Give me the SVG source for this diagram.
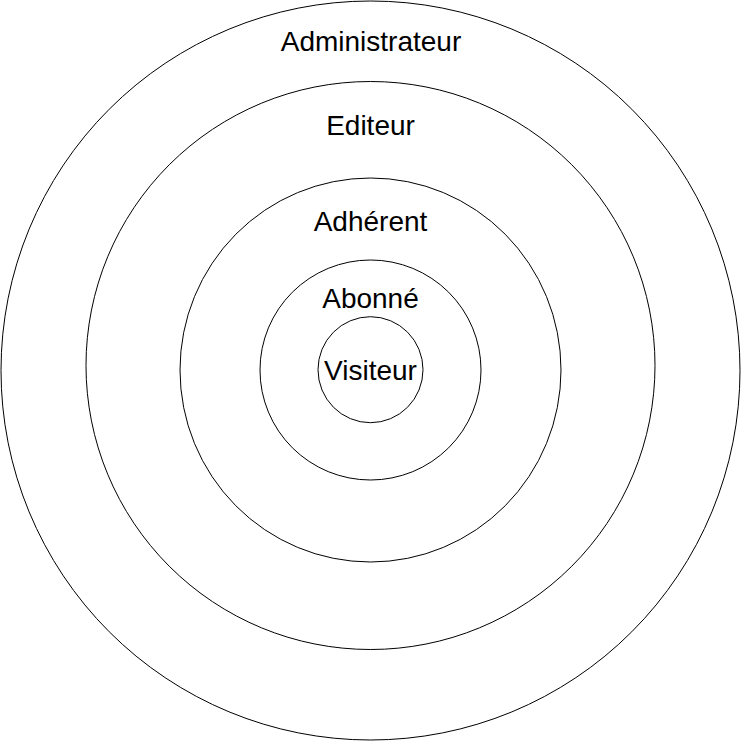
<svg xmlns="http://www.w3.org/2000/svg" width="741" height="742" viewBox="0 0 741 742">
  <style>
    .ring { fill: none; stroke: #000; stroke-width: 1; }
    .label { font-family: "Liberation Sans", Arial, Helvetica, sans-serif; font-size: 28px; fill: #000; text-anchor: middle; }
  </style>
  <rect width="741" height="742" fill="#fff"/>
  <g id="administrateur">
    <ellipse class="ring" cx="370.5" cy="370.5" rx="369.5" ry="369.5"/>
    <text class="label" x="371" y="51">Administrateur</text>
  </g>
  <g id="editeur">
    <ellipse class="ring" cx="370.5" cy="365.5" rx="284.5" ry="284"/>
    <text class="label" x="370.5" y="135">Editeur</text>
  </g>
  <g id="adherent">
    <ellipse class="ring" cx="370.5" cy="370" rx="190.5" ry="192"/>
    <text class="label" x="370.5" y="231">Adhérent</text>
  </g>
  <g id="abonne">
    <ellipse class="ring" cx="370.5" cy="370" rx="110.5" ry="110"/>
    <text class="label" x="370.5" y="308">Abonné</text>
  </g>
  <g id="visiteur">
    <ellipse class="ring" cx="370.5" cy="369.7" rx="52.5" ry="53"/>
    <text class="label" x="370.5" y="380">Visiteur</text>
  </g>
  <g id="connectors"/>
</svg>
